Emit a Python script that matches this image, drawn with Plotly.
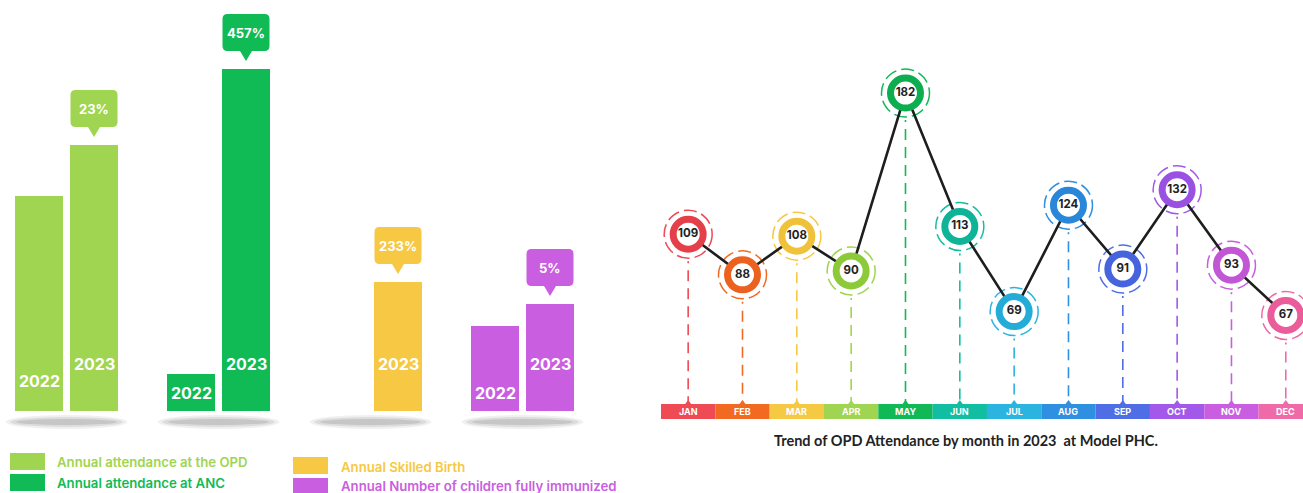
import plotly.graph_objects as go

# ---------------- data ----------------
groups = ["Annual attendance at the OPD", "Annual attendance at ANC",
          "Annual Skilled Birth", "Annual Number of children fully immunized"]
years = ["2022", "2023"]
values_2022 = [215, 37, 0, 85]          # relative bar heights
values_2023 = [266, 342, 129, 107]
change_labels = ["23%", "457%", "233%", "5%"]

months = ["JAN", "FEB", "MAR", "APR", "MAY", "JUN",
          "JUL", "AUG", "SEP", "OCT", "NOV", "DEC"]
opd_2023 = [109, 88, 108, 90, 182, 113, 69, 124, 91, 132, 93, 67]

# ---------------- styles ----------------
W, H = 1303, 493
group_colors = ["#9fd550", "#10bb56", "#f6c844", "#c95fe0"]
month_colors = ["#ef4b54", "#f26a22", "#f6c944", "#9fd550", "#10b956", "#12bea1",
                "#2bb4e0", "#2f8fe1", "#4f6ee6", "#a259ea", "#c95fe0", "#f06aa7"]
ring_colors = ["#e5404a", "#ec6020", "#f0c23a", "#8cca3a", "#0ead4f", "#0fb398",
               "#24acd8", "#2a86d8", "#4564dd", "#9a50e3", "#c257d6", "#ea5c9a"]
BAR_FONT = "Inter"
slot = 152.0           # px per bar group
half = 27.5 / slot     # bar centre offset from group centre (axis units)

fig = go.Figure()

# ---------------- left: grouped bars ----------------
fig.add_trace(go.Bar(x=list(range(4)), y=values_2022, name=years[0],
                     marker=dict(color=group_colors, line=dict(width=0)),
                     xaxis="x", yaxis="y", showlegend=False, hoverinfo="skip"))
fig.add_trace(go.Bar(x=list(range(4)), y=values_2023, name=years[1],
                     marker=dict(color=group_colors, line=dict(width=0)),
                     xaxis="x", yaxis="y", showlegend=False, hoverinfo="skip"))

shapes = []
annotations = []

# shadows under the groups
for i in range(4):
    for (dx, y0, y1, op) in [(0.40, -4, -18, 0.10), (0.37, -6, -16, 0.15), (0.33, -8, -14, 0.2)]:
        shapes.append(dict(type="circle", xref="x", yref="y", layer="below",
                           x0=i - dx, x1=i + dx, y0=y0, y1=y1,
                           fillcolor=f"rgba(110,110,110,{op})", line=dict(width=0)))

# year labels inside bars
y2022_pos = [30, 18, 18, 18]
for i in range(4):
    if values_2022[i] > 0:
        annotations.append(dict(x=i - half, y=y2022_pos[i], xref="x", yref="y",
                                xanchor="center", yanchor="middle",
                                text=f"<b>{years[0]}</b>", showarrow=False,
                                font=dict(family=BAR_FONT, size=16, color="white")))
    annotations.append(dict(x=i + half, y=47, xref="x", yref="y",
                            xanchor="center", yanchor="middle",
                            text=f"<b>{years[1]}</b>", showarrow=False,
                            font=dict(family=BAR_FONT, size=16, color="white")))

# callouts above 2023 bars
callout = ("M 0,8 L 6,18 L 18.5,18 Q 23.5,18 23.5,23 L 23.5,50 Q 23.5,55 18.5,55 "
           "L -18.5,55 Q -23.5,55 -23.5,50 L -23.5,23 Q -23.5,18 -18.5,18 L -6,18 Z")
for i in range(4):
    shapes.append(dict(type="path", xref="x", yref="y", xsizemode="pixel", ysizemode="pixel",
                       xanchor=i + half, yanchor=values_2023[i], path=callout,
                       fillcolor=group_colors[i], line=dict(width=0)))
    annotations.append(dict(x=i + half, y=values_2023[i] + 36.5, xref="x", yref="y",
                            xanchor="center", yanchor="middle",
                            text=f"<b>{change_labels[i]}</b>", showarrow=False,
                            font=dict(family=BAR_FONT, size=13, color="white")))

# custom legend
legend_items = [(10, 453, 45, 470, 57, 462), (10, 474, 45, 491, 57, 483),
                (293, 457, 328, 474, 341, 467), (293, 478, 328, 493, 341, 486)]
for (x0, y0, x1, y1, tx, ty), name, col in zip(legend_items, groups, group_colors):
    shapes.append(dict(type="rect", xref="paper", yref="paper",
                       x0=x0 / W, x1=x1 / W, y0=1 - y1 / H, y1=1 - y0 / H,
                       fillcolor=col, line=dict(width=0)))
    annotations.append(dict(x=(tx - 2) / W, y=1 - ty / H, xref="paper", yref="paper",
                            xanchor="left", yanchor="middle", text=name, showarrow=False,
                            font=dict(family=BAR_FONT, size=13.2, color=col, weight=600)))

# ---------------- right: monthly trend ----------------
y2_range = [-24.8, 230.1]
band_top_px, band_bot_px = 404, 419
band_top_val = y2_range[0] + (y2_range[1] - y2_range[0]) * (1 - band_top_px / H)

for i, (v, c) in enumerate(zip(opd_2023, month_colors)):
    # vertical dashed guide
    shapes.append(dict(type="line", xref="x2", yref="y2", layer="below",
                       x0=i, x1=i, y0=v, y1=band_top_val,
                       line=dict(color=c, width=1.6, dash="11px,7px")))
for i, (v, c) in enumerate(zip(opd_2023, month_colors)):
    # white backing + dashed ring
    shapes.append(dict(type="circle", xref="x2", yref="y2", layer="below",
                       xsizemode="pixel", ysizemode="pixel", xanchor=i, yanchor=v,
                       x0=-27, x1=27, y0=-27, y1=27, fillcolor="white", line=dict(width=0)))
    shapes.append(dict(type="circle", xref="x2", yref="y2", layer="below",
                       xsizemode="pixel", ysizemode="pixel", xanchor=i, yanchor=v,
                       x0=-24, x1=24, y0=-24, y1=24,
                       line=dict(color=c, width=1.5, dash="13px,5px")))
    # month band segment
    shapes.append(dict(type="rect", xref="x2", yref="paper",
                       x0=i - 0.5, x1=i + 0.5, y0=1 - band_bot_px / H, y1=1 - band_top_px / H,
                       fillcolor=c, line=dict(width=0)))
    shapes.append(dict(type="path", xref="x2", yref="y2", xsizemode="pixel", ysizemode="pixel",
                       xanchor=i, yanchor=band_top_val, path="M -3,0 L 0,4 L 3,0 Z",
                       fillcolor=c, line=dict(width=0)))
    annotations.append(dict(x=i, y=1 - (band_top_px + band_bot_px) / 2 / H, xref="x2", yref="paper",
                            xanchor="center", yanchor="middle",
                            text=f"<b>{months[i]}</b>", showarrow=False,
                            font=dict(family=BAR_FONT, size=9, color="white")))

fig.add_trace(go.Scatter(x=list(range(12)), y=opd_2023, xaxis="x2", yaxis="y2",
                         mode="lines+markers+text", text=[str(v) for v in opd_2023],
                         textposition="middle center",
                         textfont=dict(family=BAR_FONT, size=11.5, color="#222222", weight="bold"),
                         line=dict(color="#1e1e1e", width=2.6),
                         marker=dict(size=30, color="white",
                                     line=dict(color=ring_colors, width=7)),
                         showlegend=False, hoverinfo="skip", cliponaxis=False))

annotations.append(dict(x=966 / W, y=1 - 440 / H, xref="paper", yref="paper",
                        xanchor="center", yanchor="middle",
                        text="<b>Trend of OPD Attendance by month in 2023  at Model PHC.</b>",
                        showarrow=False,
                        font=dict(family="Lato", size=14.5, color="#222222")))

fig.update_layout(
    width=W, height=H, margin=dict(l=0, r=0, t=0, b=0),
    paper_bgcolor="white", plot_bgcolor="rgba(0,0,0,0)",
    barmode="group", bargap=1 - 110 / slot, bargroupgap=1 - 48 / 55,
    xaxis=dict(domain=[0, 608 / W], range=[-66.5 / slot, -66.5 / slot + 608 / slot],
               visible=False, fixedrange=True),
    yaxis=dict(domain=[0, 1], range=[-82, 411], visible=False, fixedrange=True),
    xaxis2=dict(domain=[661 / W, 1], range=[-0.5, -0.5 + 642 / 54.33],
                visible=False, fixedrange=True),
    yaxis2=dict(domain=[0, 1], range=y2_range, visible=False, fixedrange=True,
                anchor="x2"),
    shapes=shapes, annotations=annotations,
)

fig.write_html("out.html", config={"displayModeBar": False},
               post_script="document.body.style.margin='0';document.body.style.overflow='hidden';")
